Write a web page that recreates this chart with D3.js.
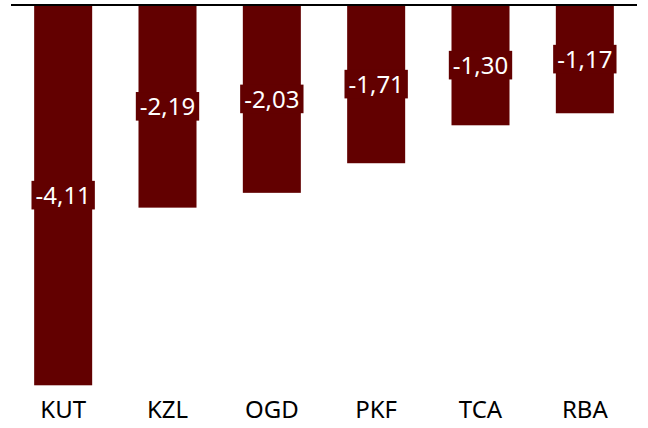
<!DOCTYPE html>
<html>
<head>
<meta charset="utf-8">
<script src="https://cdn.jsdelivr.net/npm/d3@7"></script>
<style>
  body { margin: 0; background: #fff; }
  text { font-family: "Noto Sans", "DejaVu Sans", sans-serif; }
</style>
</head>
<body>
<div id="chart"></div>
<script>
// Data
const categories = ["KUT", "KZL", "OGD", "PKF", "TCA", "RBA"];
const values = [-4.11, -2.19, -2.03, -1.71, -1.30, -1.17];

const width = 648;
const height = 428;
const barColor = "#620000";

const svg = d3.select("#chart")
    .append("svg")
    .attr("width", width)
    .attr("height", height);

// Scales
const x = d3.scaleBand()
    .domain(categories)
    .range([11, 637])
    .paddingInner(0.444)
    .paddingOuter(0.222);

const y = d3.scaleLinear()
    .domain([0, -4.5])
    .range([5, 5 + 4.5 * 92.53]);

const fmt = v => d3.format(".2f")(v).replace("−", "-").replace(".", ",");

// Bars
svg.selectAll(".bar")
    .data(values)
    .enter().append("rect")
    .attr("class", "bar")
    .attr("x", (d, i) => x(categories[i]))
    .attr("y", y(0))
    .attr("width", x.bandwidth())
    .attr("height", d => y(d) - y(0))
    .attr("fill", barColor);

// Zero axis line
svg.append("line")
    .attr("x1", 11)
    .attr("x2", 637)
    .attr("y1", y(0))
    .attr("y2", y(0))
    .attr("stroke", "#000")
    .attr("stroke-width", 2);

// Category labels
const xAxis = d3.axisBottom(x).tickSize(0).tickPadding(0);
const ax = svg.append("g")
    .attr("transform", "translate(0, 398)")
    .call(xAxis);
ax.select(".domain").remove();
ax.selectAll("text")
    .attr("dy", 0)
    .attr("y", 20)
    .style("font-size", "24px")
    .style("font-family", "'Noto Sans', 'DejaVu Sans', sans-serif")
    .attr("fill", "#000");

// Value labels with boxes
const labels = svg.selectAll(".vlabel")
    .data(values)
    .enter().append("g")
    .attr("class", "vlabel")
    .attr("transform", (d, i) => `translate(${x(categories[i]) + x.bandwidth() / 2}, ${(y(0) + y(d)) / 2})`);

labels.append("rect").attr("fill", barColor);
labels.append("text")
    .attr("text-anchor", "middle")
    .attr("dy", "0.36em")
    .style("font-size", "24px")
    .attr("fill", "#fff")
    .text(d => fmt(d));

labels.each(function () {
    const g = d3.select(this);
    const bb = g.select("text").node().getBBox();
    g.select("rect")
        .attr("x", bb.x - 4)
        .attr("y", -14.3)
        .attr("width", bb.width + 8)
        .attr("height", 28.6);
});
</script>
</body>
</html>
